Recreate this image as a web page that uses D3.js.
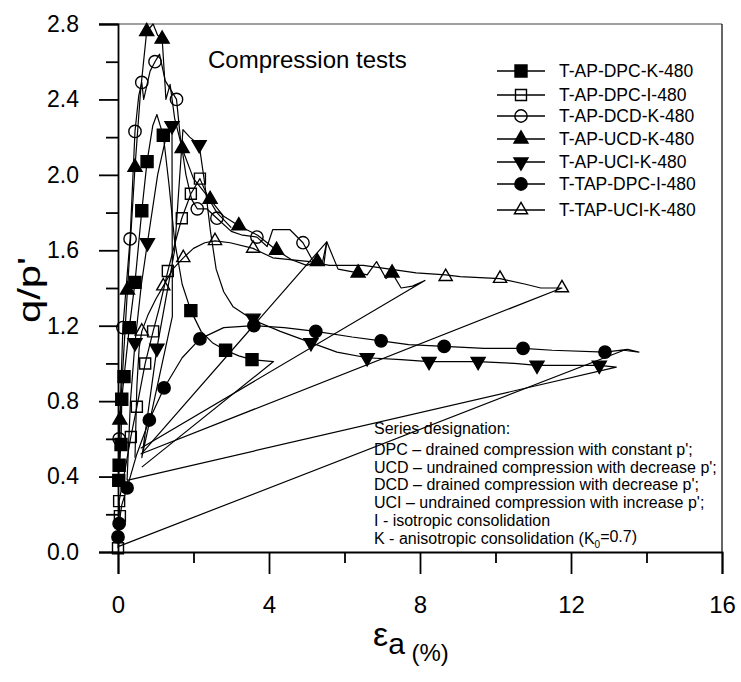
<!DOCTYPE html>
<html>
<head>
<meta charset="utf-8">
<script src="https://d3js.org/d3.v7.min.js"></script>
<style>
  body { margin: 0; background: #fff; }
  text { font-family: "Liberation Sans", Arial, sans-serif; fill: #000; }
</style>
</head>
<body>
<svg></svg>
<script>
var width = 741, height = 682;

// ---- data ----
var seriesNames = ["T-AP-DPC-K-480", "T-AP-DPC-I-480", "T-AP-DCD-K-480", "T-AP-UCD-K-480",
                   "T-AP-UCI-K-480", "T-TAP-DPC-I-480", "T-TAP-UCI-K-480"];
var seriesSymbols = ["square", "squareOpen", "circleOpen", "triUp", "triDown", "circle", "triUpOpen"];

var dpcKLine = [[0.0,0.36],[0.03,0.46],[0.08,0.57],[0.1,0.81],[0.16,0.93],[0.3,1.19],[0.45,1.43],[0.63,1.81],[0.77,2.07],[0.92,2.26],[1.03,2.32],[1.12,2.26],[1.2,2.21],[1.35,1.95],[1.5,1.65],[1.7,1.42],[1.93,1.28],[2.2,1.17],[2.5,1.11],[2.85,1.07],[3.2,1.04],[3.55,1.02],[4.12,1.01],[0.63,0.45]];
var dpcKMarks = [[0.02,0.38],[0.03,0.46],[0.08,0.57],[0.1,0.81],[0.16,0.93],[0.3,1.19],[0.45,1.43],[0.63,1.81],[0.77,2.07],[1.2,2.21],[1.93,1.28],[2.85,1.07],[3.55,1.02]];

var dpcILine = [[0,0.02],[0.05,0.19],[0.03,0.27],[0.2,0.45],[0.34,0.61],[0.5,0.77],[0.72,1.0],[0.93,1.17],[1.1,1.3],[1.32,1.49],[1.5,1.63],[1.69,1.77],[1.93,1.9],[2.17,1.98],[2.3,1.92],[2.44,1.86],[2.62,1.8],[3.0,1.72]];
var dpcIMarks = [[0,0.02],[0.05,0.19],[0.03,0.27],[0.34,0.61],[0.5,0.77],[0.72,1.0],[0.93,1.17],[1.32,1.49],[1.69,1.77],[1.93,1.9],[2.17,1.98]];

var dcdKLine = [[0.05,0.45],[0.03,0.6],[0.13,1.19],[0.32,1.66],[0.45,2.23],[0.55,2.42],[0.63,2.49],[0.68,2.4],[0.85,2.55],[0.98,2.6],[1.1,2.64],[1.25,2.5],[1.55,2.4],[1.65,2.2],[1.8,2.0],[1.95,1.87],[2.1,1.82],[2.35,1.82],[2.62,1.77],[3.0,1.7],[3.3,1.68],[3.68,1.67],[3.95,1.62],[4.1,1.71],[4.55,1.71],[4.9,1.64],[5.2,1.53],[5.45,1.52],[5.53,1.645],[0.62,0.52]];
var dcdKMarks = [[0.03,0.6],[0.13,1.19],[0.32,1.66],[0.45,2.23],[0.63,2.49],[0.98,2.6],[1.55,2.4],[2.1,1.82],[2.62,1.77],[3.68,1.67],[4.9,1.64]];

var ucdKLine = [[0.05,0.5],[0.05,0.7],[0.15,1.05],[0.25,1.39],[0.45,2.04],[0.6,2.45],[0.76,2.76],[0.93,2.8],[1.05,2.74],[1.17,2.72],[1.27,2.4],[1.38,2.48],[1.5,2.3],[1.7,2.14],[2.0,1.98],[2.44,1.87],[2.8,1.78],[3.2,1.73],[3.7,1.68],[4.2,1.6],[4.6,1.55],[5.0,1.52],[5.28,1.54],[5.4,1.52],[5.53,1.645],[5.83,1.5],[6.36,1.48],[6.6,1.47],[6.85,1.54],[7.1,1.45],[7.26,1.48],[7.5,1.4],[7.8,1.41],[8.13,1.44],[0.6,0.55]];
var ucdKMarks = [[0.05,0.7],[0.25,1.39],[0.45,2.04],[0.76,2.76],[1.17,2.72],[1.7,2.14],[2.44,1.87],[3.2,1.73],[4.2,1.6],[5.28,1.54],[6.36,1.48],[7.26,1.48]];

var uciKLine = [[0.24,0.38],[0.33,0.8],[0.45,1.11],[0.62,1.42],[0.78,1.64],[1.05,2.0],[1.25,2.18],[1.43,2.26],[1.44,1.25],[0.63,0.5],[1.03,1.08],[1.5,1.6],[1.72,2.24],[1.9,2.2],[2.15,2.16],[2.3,1.95],[2.45,1.7],[2.6,1.5],[2.8,1.38],[3.05,1.3],[3.58,1.23],[4.3,1.17],[5.11,1.11],[5.8,1.06],[6.6,1.03],[7.5,1.02],[8.24,1.01],[9.54,1.01],[10.5,1.0],[11.1,0.99],[12.75,0.99],[13.2,0.98],[0.24,0.38]];
var uciKMarks = [[0.45,1.11],[0.78,1.64],[1.43,2.26],[1.03,1.08],[2.15,2.16],[3.58,1.24],[5.11,1.11],[6.6,1.03],[8.24,1.01],[9.54,1.01],[11.1,0.99],[12.75,0.99]];

var tapDpcILine = [[0.02,0.03],[0,0.08],[0.03,0.15],[0.1,0.25],[0.24,0.34],[0.5,0.52],[0.83,0.7],[1.22,0.87],[1.7,1.03],[2.17,1.13],[2.8,1.19],[3.6,1.2],[4.4,1.19],[5.24,1.17],[6.2,1.14],[6.97,1.12],[7.7,1.1],[8.64,1.09],[9.7,1.08],[10.73,1.08],[11.5,1.07],[12.9,1.06],[13.5,1.075],[13.8,1.06],[13.4,1.07],[0.02,0.03]];
var tapDpcIMarks = [[0,0.08],[0.03,0.15],[0.24,0.34],[0.83,0.7],[1.22,0.87],[2.17,1.13],[3.6,1.2],[5.24,1.17],[6.97,1.12],[8.64,1.09],[10.73,1.08],[12.9,1.06]];

var tapUciKLine = [[0.45,0.5],[0.5,0.88],[0.56,1.08],[0.63,1.17],[0.8,1.26],[1.0,1.34],[1.2,1.41],[1.45,1.5],[1.73,1.56],[2.0,1.61],[2.3,1.64],[2.57,1.65],[2.97,1.64],[3.58,1.61],[4.1,1.56],[4.55,1.55],[5.09,1.54],[5.6,1.52],[6.5,1.52],[7.9,1.48],[8.68,1.47],[9.06,1.46],[10.12,1.45],[10.8,1.42],[11.2,1.4],[11.76,1.4],[0.6,0.52]];
var tapUciKMarks = [[0.63,1.17],[1.2,1.41],[1.73,1.56],[2.57,1.65],[3.58,1.61],[8.68,1.46],[10.12,1.45],[11.76,1.4]];

var yMajor = [0, 0.4, 0.8, 1.2, 1.6, 2.0, 2.4, 2.8];
var yMinor = [0.2, 0.6, 1.0, 1.4, 1.8, 2.2, 2.6];
var xMajor = [0, 4, 8, 12, 16];
var xMinor = [2, 6, 10, 14];

var notes = ["Series designation:",
             "DPC \u2013 drained compression with constant p';",
             "UCD \u2013 undrained compression with decrease p';",
             "DCD \u2013 drained compression with decrease p';",
             "UCI \u2013 undrained compression with increase p';",
             "I - isotropic consolidation"];

var lines = [dpcKLine, dpcILine, dcdKLine, ucdKLine, uciKLine, tapDpcILine, tapUciKLine];
var marks = [dpcKMarks, dpcIMarks, dcdKMarks, ucdKMarks, uciKMarks, tapDpcIMarks, tapUciKMarks];

// ---- chart ----
var svg = d3.select("svg").attr("width", width).attr("height", height);

var x = d3.scaleLinear().domain([0, 16]).range([118, 722]);
var y = d3.scaleLinear().domain([0, 2.8]).range([552, 24]);

function symbolFor(kind) {
  if (kind == "square")     return {type: d3.symbolSquare, size: 144, fill: "#000", rot: 0};
  if (kind == "squareOpen") return {type: d3.symbolSquare, size: 121, fill: "none", rot: 0};
  if (kind == "circle")     return {type: d3.symbolCircle, size: 120, fill: "#000", rot: 0};
  if (kind == "circleOpen") return {type: d3.symbolCircle, size: 120, fill: "none", rot: 0};
  if (kind == "triUp")      return {type: d3.symbolTriangle, size: 85, fill: "#000", rot: 0};
  if (kind == "triDown")    return {type: d3.symbolTriangle, size: 85, fill: "#000", rot: 180};
  return {type: d3.symbolTriangle, size: 75, fill: "none", rot: 0};
}

function drawMark(g, kind, px, py) {
  var s = symbolFor(kind);
  g.append("path")
    .attr("d", d3.symbol().type(s.type).size(s.size)())
    .attr("transform", "translate(" + px + "," + py + ") rotate(" + s.rot + ")")
    .attr("fill", s.fill)
    .attr("stroke", "#000")
    .attr("stroke-width", 1.4);
}

// frame: top and right borders
svg.append("line").attr("x1", 99).attr("x2", 722).attr("y1", y(2.8)).attr("y2", y(2.8))
  .attr("stroke", "#808080").attr("stroke-width", 1.6);
svg.append("line").attr("x1", 722).attr("x2", 722).attr("y1", y(2.8)).attr("y2", 552)
  .attr("stroke", "#000").attr("stroke-width", 1.2);

// y axis
var yAxis = svg.append("g").attr("transform", "translate(118,0)")
  .call(d3.axisLeft(y).tickValues(yMajor).tickSize(19).tickPadding(20).tickFormat(d3.format(".1f")));
yAxis.selectAll("text").style("font-size", "23px").attr("font-family", null);
svg.append("g").attr("transform", "translate(118,0)")
  .call(d3.axisLeft(y).tickValues(yMinor).tickSize(12).tickFormat(""))
  .select(".domain").remove();

// x axis
var xAxis = svg.append("g").attr("transform", "translate(0,552)")
  .call(d3.axisBottom(x).tickValues(xMajor).tickSize(22).tickPadding(22));
xAxis.selectAll("text").style("font-size", "24px").attr("font-family", null);
svg.append("g").attr("transform", "translate(0,552)")
  .call(d3.axisBottom(x).tickValues(xMinor).tickSize(11).tickFormat(""))
  .select(".domain").remove();

svg.selectAll(".domain").attr("stroke-width", 1.8);
svg.selectAll(".tick line").attr("stroke-width", 1.8);

// series
var line = d3.line().x(function(d) { return x(d[0]); }).y(function(d) { return y(d[1]); });
var plot = svg.append("g");
lines.forEach(function(pts) {
  plot.append("path").datum(pts)
    .attr("d", line)
    .attr("fill", "none")
    .attr("stroke", "#000")
    .attr("stroke-width", 1.2)
    .attr("stroke-linejoin", "round");
});
marks.forEach(function(pts, i) {
  pts.forEach(function(d) { drawMark(plot, seriesSymbols[i], x(d[0]), y(d[1])); });
});

// title inside the plot
svg.append("text").attr("x", 208).attr("y", 68).style("font-size", "24px").text("Compression tests");

// legend
var legendY = [71, 95, 116, 139, 162, 184, 210];
var legend = svg.append("g");
seriesNames.forEach(function(name, i) {
  legend.append("line").attr("x1", 497).attr("x2", 545).attr("y1", legendY[i]).attr("y2", legendY[i])
    .attr("stroke", "#000").attr("stroke-width", 1.5);
  drawMark(legend, seriesSymbols[i], 521, legendY[i]);
  legend.append("text").attr("x", 559).attr("y", legendY[i]).attr("dy", "0.36em")
    .style("font-size", "17.5px").text(name);
});

// notes
var noteY = [434, 455, 473, 490, 508, 526];
notes.forEach(function(t, i) {
  svg.append("text").attr("x", 374).attr("y", noteY[i]).style("font-size", "16px").text(t);
});
var last = svg.append("text").attr("x", 374).attr("y", 544).style("font-size", "16px");
last.append("tspan").text("K - anisotropic consolidation (K");
last.append("tspan").attr("dy", 4).style("font-size", "10px").text("0");
last.append("tspan").attr("dy", -6).text("=0.7)");

// axis titles
svg.append("text")
  .attr("transform", "translate(40,290) rotate(-90) scale(1.35,1)")
  .attr("text-anchor", "middle")
  .style("font-size", "31px")
  .text("q/p'");

var xt = svg.append("text").attr("x", 373).attr("y", 646);
xt.append("tspan").style("font-size", "34px").text("\u03b5");
xt.append("tspan").attr("dy", 8).style("font-size", "30px").text("a");
xt.append("tspan").attr("dy", 7).style("font-size", "24px").text(" (%)");
</script>
</body>
</html>
